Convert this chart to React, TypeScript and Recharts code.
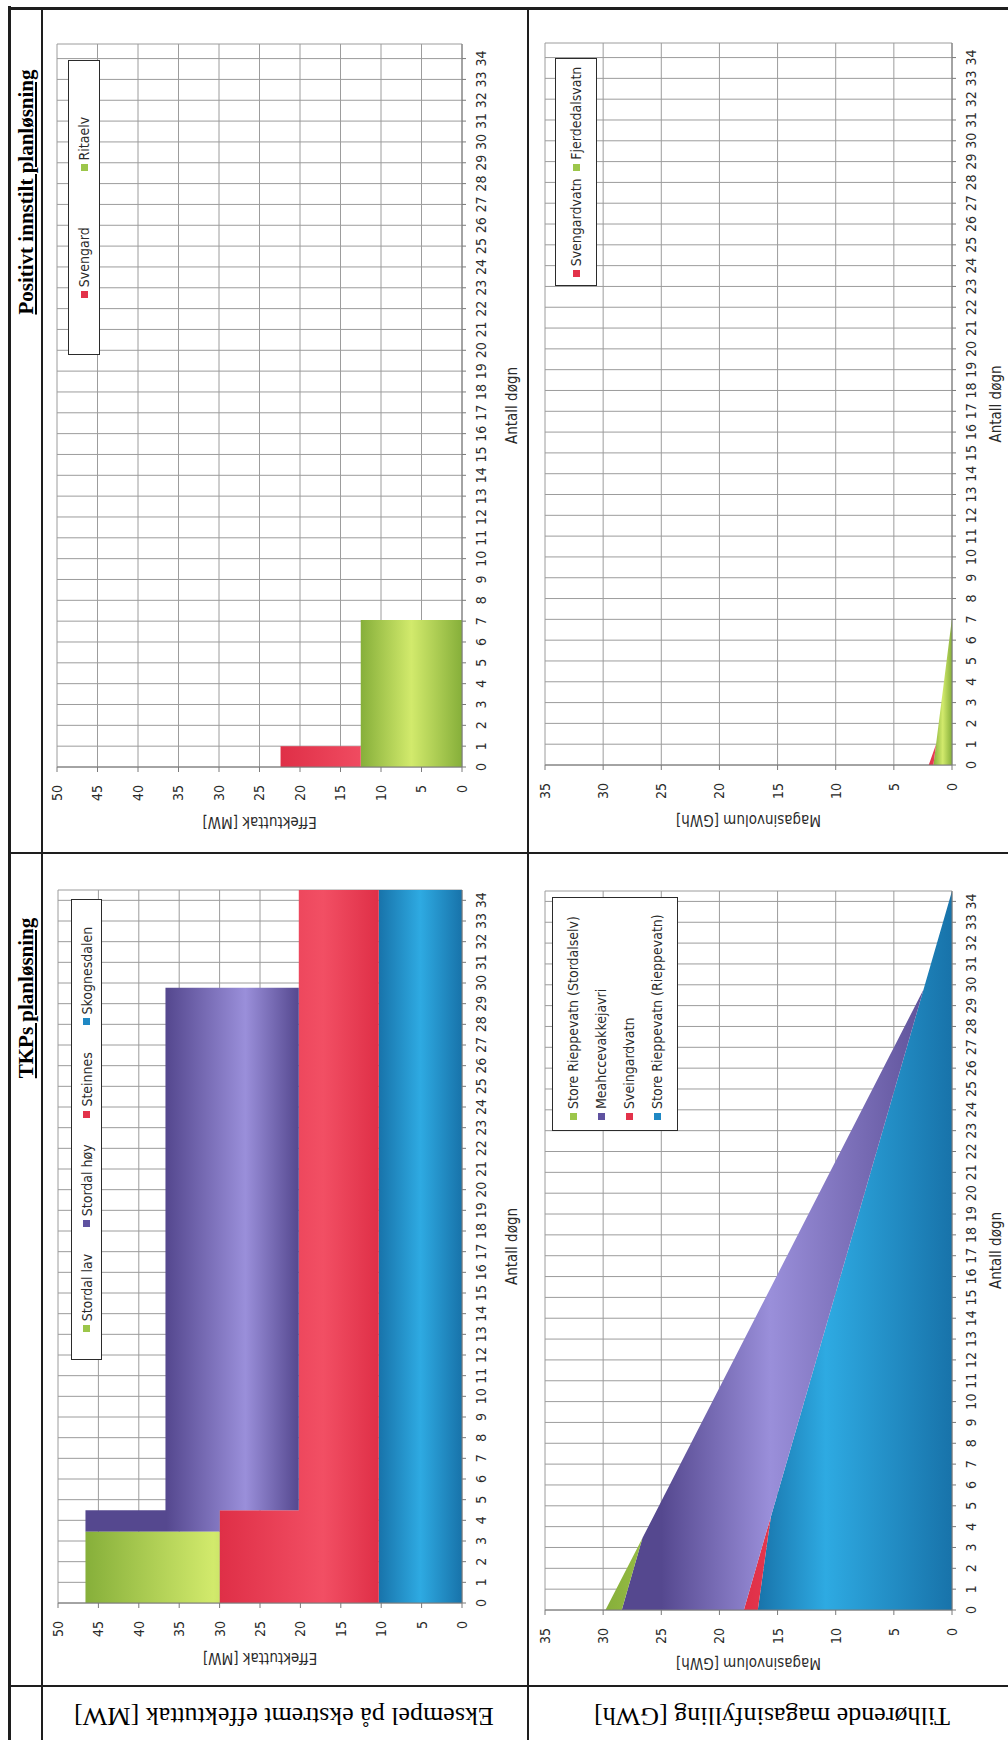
import React from 'react';
import { AreaChart, Area, XAxis, YAxis, CartesianGrid } from 'recharts';

// ---------- axis ticks ----------
const dagTicks = [0, 1, 2, 3, 4, 5, 6, 7, 8, 9, 10, 11, 12, 13, 14, 15, 16, 17, 18, 19, 20, 21, 22, 23, 24, 25, 26, 27, 28, 29, 30, 31, 32, 33, 34];
const effektTicks = [0, 5, 10, 15, 20, 25, 30, 35, 40, 45, 50];
const magasinTicks = [0, 5, 10, 15, 20, 25, 30, 35];

// ---------- TKPs planløsning ----------
// breakpoints (days) of the stacked step areas, effect in MW
const tkpEffektDager = [0, 3.45, 4.49, 29.77, 34.5];
const tkpSkognesdalen = [10.3, 10.3, 10.3, 10.3, 10.3];
const tkpSteinnes = [19.7, 19.7, 9.9, 9.9, 9.9];
const tkpStordalHoy = [0, 16.6, 16.5, 0, 0];
const tkpStordalLav = [16.6, 0, 0, 0, 0];

// reservoir content (GWh), stacked
const tkpMagasinDager = [0, 3.45, 4.49, 29.77, 34.5];
const tkpRieppevatn = [16.7, 15.84, 15.57, 2.45, 0];
const tkpSveingardvatn = [1.2, 0.28, 0, 0, 0];
const tkpMeahccevakkejavri = [10.5, 10.5, 10.1, 0, 0];
const tkpStordalselv = [1.4, 0, 0, 0, 0];

// ---------- Positivt innstilt planløsning ----------
const posEffektDager = [0, 1.0, 7.06, 34.7];
const posRitaelv = [12.5, 12.5, 0, 0];
const posSvengard = [9.9, 0, 0, 0];

const posMagasinDager = [0, 1.0, 7.06, 34.7];
const posFjerdedalsvatn = [1.6, 1.37, 0, 0];
const posSvengardvatn = [0.4, 0, 0, 0];

// ---------- colours ----------
type Tone = { dark: string; light: string; solid: string };
const GREEN: Tone = { dark: '#86af3a', light: '#d2ea6c', solid: '#9cc64a' };
const PURPLE: Tone = { dark: '#55488f', light: '#9a8fda', solid: '#5f52a0' };
const RED: Tone = { dark: '#df2f47', light: '#f24f64', solid: '#e3324a' };
const BLUE: Tone = { dark: '#1873aa', light: '#2eaae2', solid: '#1f88c4' };

const FONT = '"Liberation Sans Narrow", "DejaVu Sans Condensed", Roboto, sans-serif';
const SERIF = '"Liberation Serif", "DejaVu Serif", serif';

// `lightAt`/`darkTo` place the light band of the fill inside the area's own box (0 = top, 1 = bottom)
type Serie = { key: string; name: string; values: number[]; color: Tone; lightAt: number; darkTo?: number };

function rowsFrom(dager: number[], series: Serie[]) {
  return dager.map((d, i) => {
    const r: Record<string, number> = { dag: d };
    series.forEach((s) => {
      r[s.key] = s.values[i];
    });
    return r;
  });
}

type ChartProps = {
  id: string;
  left: number;
  top: number;
  plotLeft: number;
  plotTop: number;
  plotRight: number;
  plotBottom: number;
  dager: number[];
  series: Serie[]; // bottom of the stack first
  xMax: number;
  yMax: number;
  yTicks: number[];
  yTitle: string;
  yTitleX: number;
  xTitleOffset: number;
  tickGap: number;
  curve: 'stepAfter' | 'linear';
};

const X_AXIS_H = 62;
const RIGHT_PAD = 12;

function DayChart(p: ChartProps) {
  const width = p.plotRight + RIGHT_PAD - p.left;
  const height = p.plotBottom + X_AXIS_H - p.top;
  const yw = p.plotLeft - p.left;
  const rows = rowsFrom(p.dager, p.series);
  const titleX = p.yTitleX - p.left;
  return (
    <div style={{ position: 'absolute', left: p.left, top: p.top }}>
      <AreaChart
        width={width}
        height={height}
        data={rows}
        margin={{ top: p.plotTop - p.top, right: RIGHT_PAD, bottom: 0, left: 0 }}
      >
        <defs>
          {p.series.map((s) => (
            <linearGradient key={s.key} id={`${p.id}-${s.key}`} x1="0" y1="0" x2="0" y2="1">
              <stop offset="0%" stopColor={s.color.dark} />
              {s.darkTo !== undefined && <stop offset={`${s.darkTo * 100}%`} stopColor={s.color.dark} />}
              <stop offset={`${s.lightAt * 100}%`} stopColor={s.color.light} />
              <stop offset="100%" stopColor={s.color.dark} />
            </linearGradient>
          ))}
        </defs>
        <CartesianGrid stroke="#9c9c9c" strokeWidth={1} />
        <XAxis
          dataKey="dag"
          type="number"
          domain={[0, p.xMax]}
          ticks={dagTicks}
          interval={0}
          height={X_AXIS_H}
          tickSize={4}
          tickMargin={10}
          stroke="#7a7a7a"
          tick={{ fontSize: 14, fill: '#2a2a2a', fontFamily: FONT }}
          label={{
            value: 'Antall døgn',
            position: 'insideBottom',
            offset: p.xTitleOffset,
            style: { fontSize: 15, fill: '#2a2a2a', fontFamily: FONT },
          }}
        />
        <YAxis
          type="number"
          domain={[0, p.yMax]}
          ticks={p.yTicks}
          interval={0}
          width={yw}
          tickSize={5}
          tickMargin={p.tickGap}
          stroke="#7a7a7a"
          tick={{ fontSize: 14, fill: '#2a2a2a', fontFamily: FONT }}
          label={{
            content: (lp: any) => {
              const vb = lp.viewBox || { y: 0, height: 0 };
              const cy = vb.y + vb.height / 2;
              return (
                <text
                  x={titleX}
                  y={cy}
                  transform={`rotate(-90 ${titleX} ${cy})`}
                  textAnchor="middle"
                  dominantBaseline="central"
                  fontFamily={FONT}
                  fontSize={15}
                  fill="#2a2a2a"
                >
                  {p.yTitle}
                </text>
              );
            },
          }}
        />
        {p.series.map((s) => (
          <Area
            key={s.key}
            dataKey={s.key}
            name={s.name}
            stackId="stack"
            type={p.curve}
            stroke="none"
            fill={`url(#${p.id}-${s.key})`}
            fillOpacity={1}
            isAnimationActive={false}
            dot={false}
            activeDot={false}
          />
        ))}
      </AreaChart>
    </div>
  );
}

type LegendProps = {
  left: number;
  top: number;
  width: number;
  height: number;
  items: Serie[]; // in legend order
  vertical?: boolean;
};

function LegendBox({ left, top, width, height, items, vertical }: LegendProps) {
  return (
    <div
      style={{
        position: 'absolute',
        left,
        top,
        width,
        height,
        boxSizing: 'border-box',
        border: '1.5px solid #2b2b2b',
        background: '#fff',
        display: 'flex',
        flexDirection: vertical ? 'column' : 'row',
        justifyContent: 'space-evenly',
        alignItems: vertical ? 'flex-start' : 'center',
        paddingLeft: vertical ? 10 : 0,
        fontFamily: FONT,
        fontSize: 14,
        color: '#2a2a2a',
        whiteSpace: 'nowrap',
        overflow: 'hidden',
      }}
    >
      {items.map((s) => (
        <div key={s.key} style={{ display: 'flex', alignItems: 'center', lineHeight: '16px' }}>
          <span style={{ display: 'inline-block', width: 7, height: 7, background: s.color.solid, marginRight: 4 }} />
          <span>{s.name}</span>
        </div>
      ))}
    </div>
  );
}

function VText({ cx, cy, children, style }: { cx: number; cy: number; children: React.ReactNode; style?: React.CSSProperties }) {
  return (
    <div
      style={{
        position: 'absolute',
        left: cx,
        top: cy,
        transform: 'translate(-50%, -50%) rotate(-90deg)',
        whiteSpace: 'nowrap',
        ...style,
      }}
    >
      {children}
    </div>
  );
}

function Rule({ x, y, w, h }: { x: number; y: number; w: number; h: number }) {
  return <div style={{ position: 'absolute', left: x, top: y, width: w, height: h, background: '#1e1e1e' }} />;
}

const sStordalLav: Serie = { key: 'stordalLav', name: 'Stordal lav', values: tkpStordalLav, color: GREEN, lightAt: 0.6 };
const sStordalHoy: Serie = { key: 'stordalHoy', name: 'Stordal høy', values: tkpStordalHoy, color: PURPLE, lightAt: 0.75, darkTo: 0.38 };
const sSteinnes: Serie = { key: 'steinnes', name: 'Steinnes', values: tkpSteinnes, color: RED, lightAt: 0.65 };
const sSkognesdalen: Serie = { key: 'skognesdalen', name: 'Skognesdalen', values: tkpSkognesdalen, color: BLUE, lightAt: 0.5 };

const sStordalselv: Serie = { key: 'stordalselv', name: 'Store Rieppevatn (Stordalselv)', values: tkpStordalselv, color: GREEN, lightAt: 0.5 };
const sMeahcce: Serie = { key: 'meahcce', name: 'Meahccevakkejavri', values: tkpMeahccevakkejavri, color: PURPLE, lightAt: 0.45, darkTo: 0.12 };
const sSveingardvatn: Serie = { key: 'sveingardvatn', name: 'Sveingardvatn', values: tkpSveingardvatn, color: RED, lightAt: 0.5 };
const sRieppevatn: Serie = { key: 'rieppevatn', name: 'Store Rieppevatn (Rieppevatn)', values: tkpRieppevatn, color: BLUE, lightAt: 0.35 };

const sSvengard: Serie = { key: 'svengard', name: 'Svengard', values: posSvengard, color: RED, lightAt: 0.5 };
const sRitaelv: Serie = { key: 'ritaelv', name: 'Ritaelv', values: posRitaelv, color: GREEN, lightAt: 0.5 };

const sSvengardvatn: Serie = { key: 'svengardvatn', name: 'Svengardvatn', values: posSvengardvatn, color: RED, lightAt: 0.5 };
const sFjerdedalsvatn: Serie = { key: 'fjerdedalsvatn', name: 'Fjerdedalsvatn', values: posFjerdedalsvatn, color: GREEN, lightAt: 0.5 };

const headerStyle: React.CSSProperties = {
  position: 'absolute',
  top: 12,
  fontFamily: SERIF,
  fontWeight: 'bold',
  fontSize: 21,
  textDecoration: 'underline',
  lineHeight: '28px',
  whiteSpace: 'nowrap',
  transform: 'translateX(-50%)',
};

export default function App() {
  return (
    <div style={{ position: 'absolute', left: 0, top: 0, width: 1008, height: 1740, overflow: 'hidden', background: '#fff' }}>
      {/* landscape table page, turned a quarter to the left */}
      <div
        style={{
          position: 'absolute',
          left: 0,
          top: 0,
          width: 1740,
          height: 1008,
          transformOrigin: '0 0',
          transform: 'translate(0px, 1740px) rotate(-90deg)',
          background: '#fff',
        }}
      >
        {/* table rules */}
        <Rule x={0} y={8} w={1734} h={3} />
        <Rule x={1730} y={8} w={3} h={1000} />
        <Rule x={0} y={41} w={1732} h={1.5} />
        <Rule x={0} y={527} w={1732} h={1.5} />
        <Rule x={53} y={8} w={1.5} h={1000} />
        <Rule x={886} y={8} w={1.5} h={1000} />

        {/* column headers */}
        <div style={{ ...headerStyle, left: 742 }}>TKPs planløsning</div>
        <div style={{ ...headerStyle, left: 1548 }}>Positivt innstilt planløsning</div>

        {/* row headers */}
        <VText cx={24} cy={284} style={{ fontFamily: SERIF, fontSize: 26 }}>
          Eksempel på ekstremt effektuttak [MW]
        </VText>
        <VText cx={24} cy={772} style={{ fontFamily: SERIF, fontSize: 26 }}>
          Tilhørende magasinfylling [GWh]
        </VText>

        {/* TKPs – effektuttak */}
        <DayChart
          id="tkpEff"
          left={56}
          top={46}
          plotLeft={137}
          plotTop={58}
          plotRight={850}
          plotBottom={462}
          dager={tkpEffektDager}
          series={[sSkognesdalen, sSteinnes, sStordalHoy, sStordalLav]}
          xMax={34.5}
          yMax={50}
          yTicks={effektTicks}
          yTitle="Effektuttak [MW]"
          yTitleX={82}
          xTitleOffset={7}
          tickGap={13}
          curve="stepAfter"
        />
        <LegendBox left={380} top={71} width={461} height={31} items={[sStordalLav, sStordalHoy, sSteinnes, sSkognesdalen]} />

        {/* TKPs – magasinfylling */}
        <DayChart
          id="tkpMag"
          left={56}
          top={533}
          plotLeft={130}
          plotTop={545}
          plotRight={849}
          plotBottom={952}
          dager={tkpMagasinDager}
          series={[sRieppevatn, sSveingardvatn, sMeahcce, sStordalselv]}
          xMax={34.5}
          yMax={35}
          yTicks={magasinTicks}
          yTitle="Magasinvolum [GWh]"
          yTitleX={77}
          xTitleOffset={13}
          tickGap={13}
          curve="linear"
        />
        <LegendBox left={609} top={552} width={234} height={126} vertical items={[sStordalselv, sMeahcce, sSveingardvatn, sRieppevatn]} />

        {/* Positivt innstilt – effektuttak */}
        <DayChart
          id="posEff"
          left={895}
          top={46}
          plotLeft={973}
          plotTop={57}
          plotRight={1696}
          plotBottom={462}
          dager={posEffektDager}
          series={[sRitaelv, sSvengard]}
          xMax={34.7}
          yMax={50}
          yTicks={effektTicks}
          yTitle="Effektuttak [MW]"
          yTitleX={918}
          xTitleOffset={7}
          tickGap={13}
          curve="stepAfter"
        />
        <LegendBox left={1385} top={68} width={295} height={32} items={[sSvengard, sRitaelv]} />

        {/* Positivt innstilt – magasinfylling */}
        <DayChart
          id="posMag"
          left={895}
          top={533}
          plotLeft={975}
          plotTop={545}
          plotRight={1697}
          plotBottom={952}
          dager={posMagasinDager}
          series={[sFjerdedalsvatn, sSvengardvatn]}
          xMax={34.7}
          yMax={35}
          yTicks={magasinTicks}
          yTitle="Magasinvolum [GWh]"
          yTitleX={920}
          xTitleOffset={13}
          tickGap={13}
          curve="linear"
        />
        <LegendBox left={1454} top={555} width={228} height={42} items={[sSvengardvatn, sFjerdedalsvatn]} />
      </div>
    </div>
  );
}
